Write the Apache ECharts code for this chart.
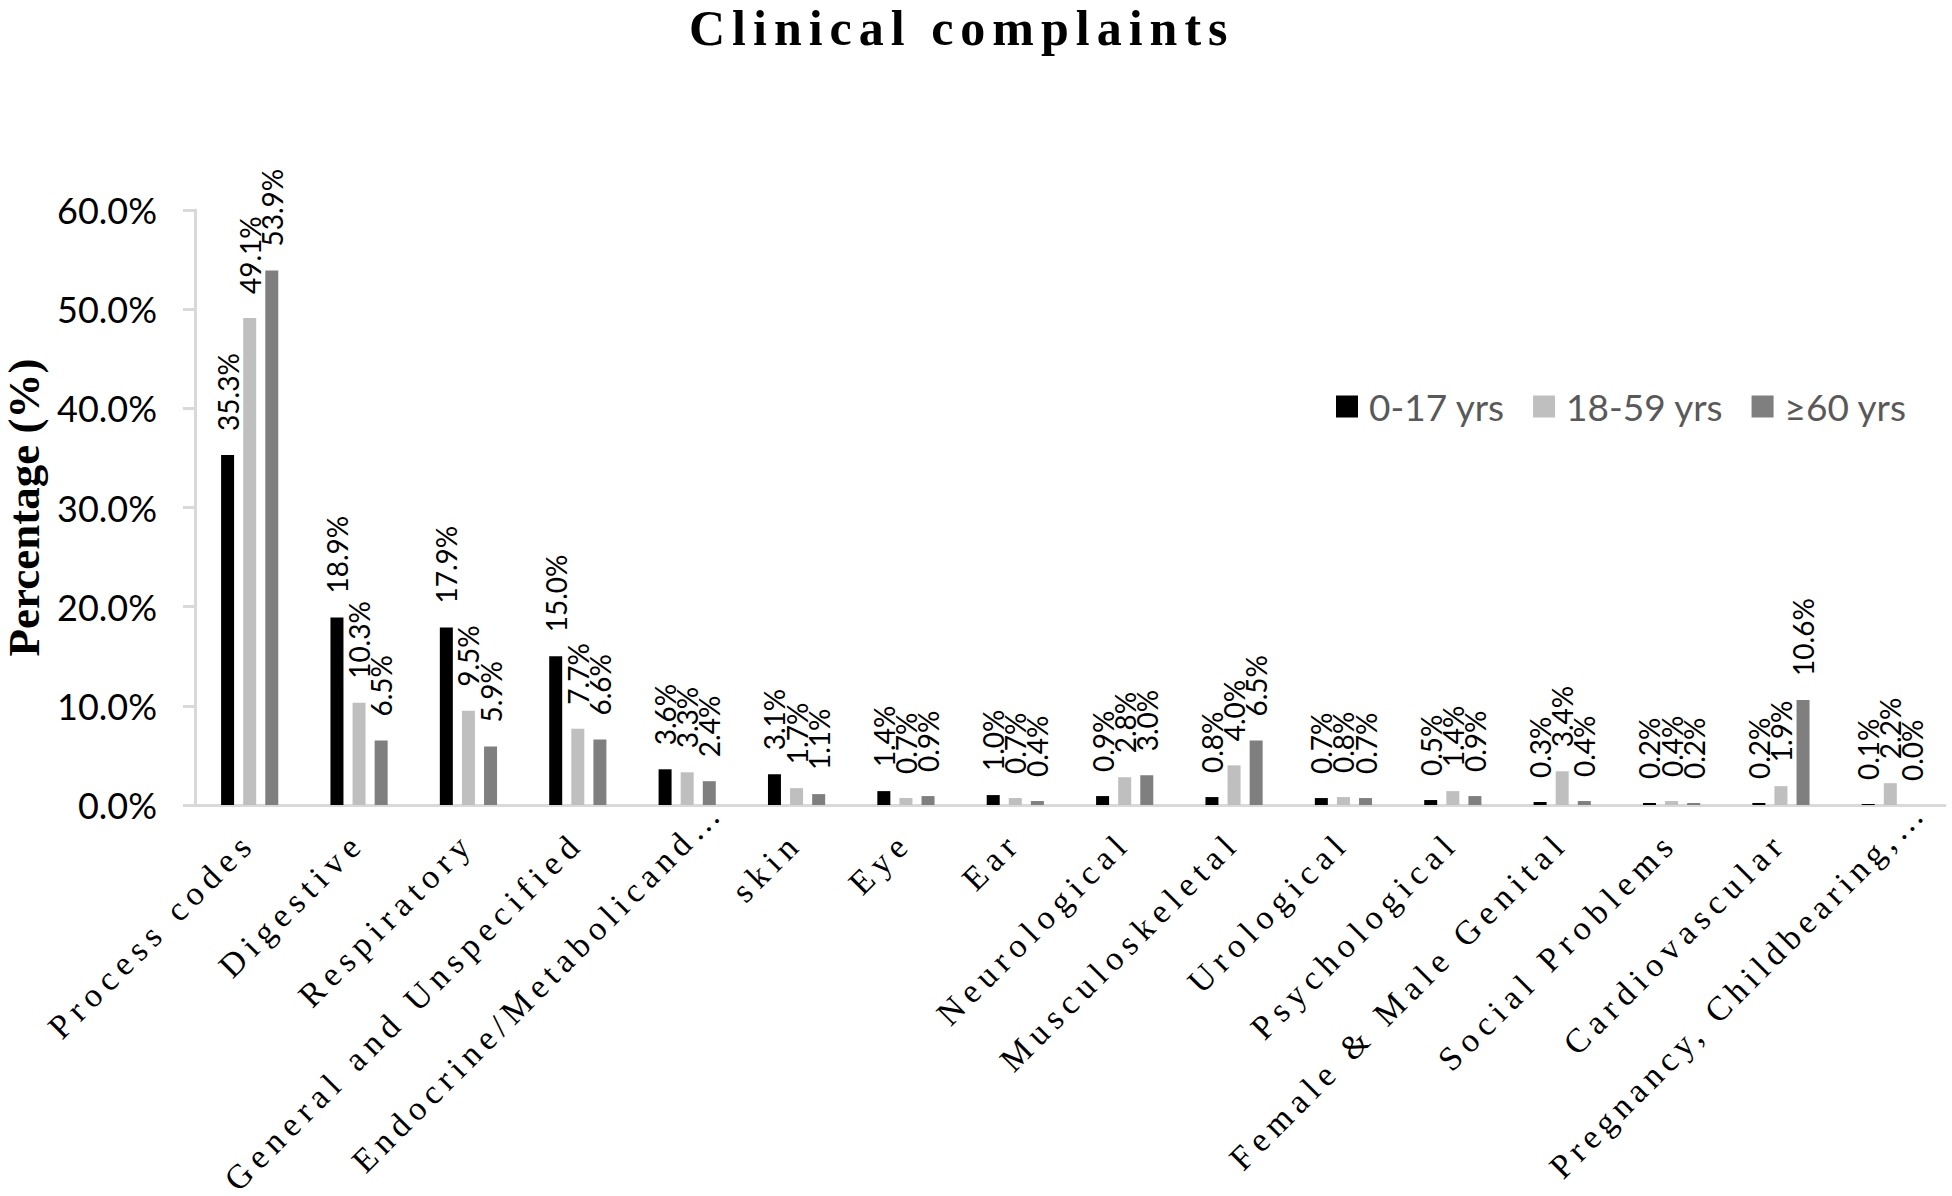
<!DOCTYPE html>
<html>
<head>
<meta charset="utf-8">
<script src="https://cdn.jsdelivr.net/npm/echarts@6/dist/echarts.min.js"></script>
<style>
html,body{margin:0;padding:0;background:#fff;}
#c{width:1952px;height:1196px;}
</style>
</head>
<body>
<div id="c"></div>
<script>
const categories = ["Process codes","Digestive","Respiratory","General and Unspecified","Endocrine/Metabolicand…","skin","Eye","Ear","Neurological","Musculoskeletal","Urological","Psychological","Female & Male Genital","Social Problems","Cardiovascular","Pregnancy, Childbearing,…"];
const seriesNames = ["0-17 yrs","18-59 yrs","≥60 yrs"];
const age0_17 = [35.3,18.9,17.9,15.0,3.6,3.1,1.4,1.0,0.9,0.8,0.7,0.5,0.3,0.2,0.2,0.1];
const age18_59 = [49.1,10.3,9.5,7.7,3.3,1.7,0.7,0.7,2.8,4.0,0.8,1.4,3.4,0.4,1.9,2.2];
const age60 = [53.9,6.5,5.9,6.6,2.4,1.1,0.9,0.4,3.0,6.5,0.7,0.9,0.4,0.2,10.6,0.0];
const yTicks = [0,10,20,30,40,50,60];
const titleText = "Clinical complaints";

const colors = ['#000000','#bfbfbf','#7f7f7f'];
const dataSets = [age0_17, age18_59, age60];
// long labels that the original shifts up along their direction to stay inside the picture
const shiftedLabels = {"Endocrine/Metabolicand…": 44, "Pregnancy, Childbearing,…": 44};

const chart = echarts.init(document.getElementById('c'), null, {renderer:'svg'});
const option = {
  animation: false,
  backgroundColor: '#ffffff',
  title: {
    text: titleText,
    left: 689, top: 3, padding: 0,
    textStyle: {fontFamily: '"Liberation Serif", serif', fontWeight: 'bold', fontSize: 50, color: '#000'}
  },
  legend: {
    data: seriesNames,
    left: 1336, top: 388, padding: 0,
    itemWidth: 22, itemHeight: 22, itemGap: 28,
    icon: 'rect',
    textStyle: {fontFamily: 'Lato, sans-serif', fontSize: 37, color: '#595959', padding: [0,0,0,6]}
  },
  grid: {left: 195, right: 7, top: 210, bottom: 391, outerBoundsMode: 'none'},
  xAxis: {
    type: 'category',
    data: categories.map(c => shiftedLabels[c]
      ? {value: c, textStyle: {padding: [0, -shiftedLabels[c], 0, 0]}}
      : c),
    axisLine: {show: true, lineStyle: {color: '#d9d9d9', width: 3}},
    axisTick: {show: false},
    axisLabel: {
      interval: 0, rotate: 45, margin: 32,
      fontFamily: '"Liberation Serif", serif', fontSize: 34, color: '#000'
    }
  },
  yAxis: {
    type: 'value',
    min: yTicks[0], max: yTicks[yTicks.length-1], interval: 10,
    name: 'Percentage (%)',
    nameLocation: 'middle', nameGap: 146, nameRotate: 90,
    nameTextStyle: {fontFamily: '"Liberation Serif", serif', fontWeight: 'bold', fontSize: 45, color: '#000'},
    axisLine: {show: true, lineStyle: {color: '#d9d9d9', width: 3}},
    axisTick: {show: true, length: 12, lineStyle: {color: '#d9d9d9', width: 3}},
    splitLine: {show: false},
    axisLabel: {
      margin: 38,
      fontFamily: 'Lato, sans-serif', fontSize: 36, color: '#000',
      formatter: v => v.toFixed(1) + '%'
    }
  },
  series: seriesNames.map((n, i) => ({
    name: n,
    type: 'bar',
    data: dataSets[i],
    barWidth: 13,
    barGap: '70%',
    itemStyle: {color: colors[i]},
    label: {
      show: true, position: 'top', distance: 24, rotate: 90,
      align: 'left', verticalAlign: 'middle',
      fontFamily: 'Lato, sans-serif', fontSize: 28, color: '#000',
      formatter: p => p.value.toFixed(1) + '%'
    }
  }))
};
chart.setOption(option);

function applySpacing(){
  const texts = document.querySelectorAll('#c svg text');
  texts.forEach(t => {
    const s = t.textContent;
    if (s === titleText) t.style.letterSpacing = '7px';
    else if (s === "Pregnancy, Childbearing,…") t.style.letterSpacing = '5.6px';
    else if (s === "Endocrine/Metabolicand…") t.style.letterSpacing = '6.1px';
    else if (categories.indexOf(s) >= 0) t.style.letterSpacing = '6.7px';
  });
}
chart.on('finished', applySpacing);
setTimeout(applySpacing, 50);
</script>
</body>
</html>
